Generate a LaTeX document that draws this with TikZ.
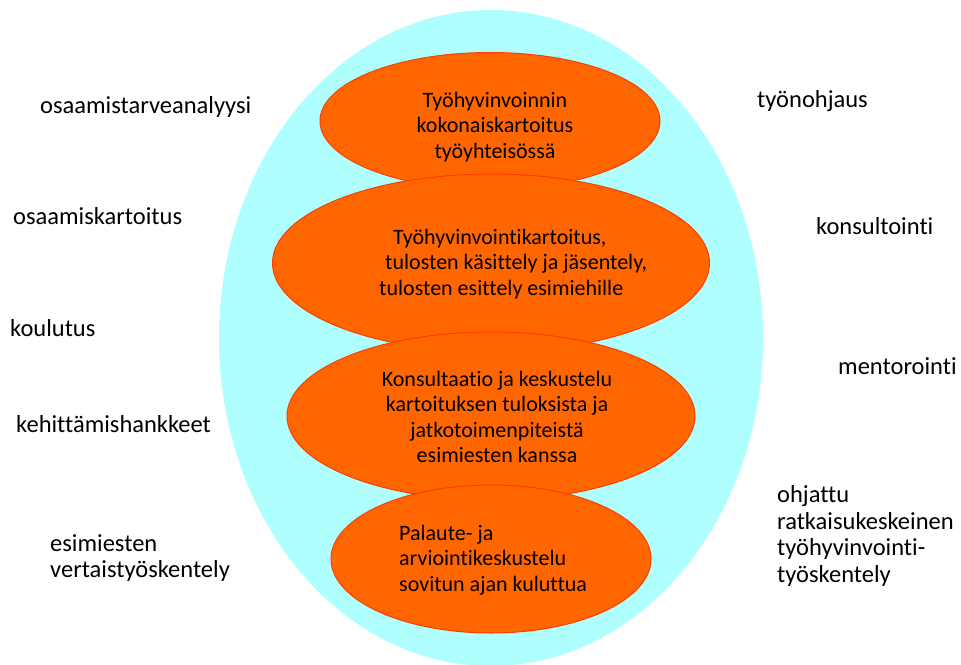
\documentclass[tikz,border=0pt]{standalone}
\usepackage{fontspec}
\setmainfont{Carlito}[Ligatures={NoCommon}]
\usetikzlibrary{shapes.geometric}
\definecolor{bgcyan}{RGB}{175,255,255}
\definecolor{orfill}{RGB}{255,102,0}
\definecolor{ordraw}{RGB}{255,60,0}
\tikzset{
  blob/.style={ellipse, fill=orfill, draw=ordraw, line width=1pt, inner sep=0pt},
  intext/.style={font=\fontsize{22}{25.5}\selectfont, text=black, inner sep=0pt},
  side/.style={font=\fontsize{24.5}{26.8}\selectfont, text=black, inner sep=0pt, anchor=west, align=left},
}
\begin{document}
\begin{tikzpicture}[x=1pt,y=-1pt]
\useasboundingbox (0,0) rectangle (961,664);
\fill[white] (0,0) rectangle (961,664);
\node[ellipse, fill=bgcyan, inner sep=0pt, minimum width=544pt, minimum height=656pt] (bg) at (491,338) {};
\node[blob, minimum width=340pt, minimum height=137pt] (e1) at (490,121) {};
\node[blob, minimum width=437pt, minimum height=178pt] (e2) at (491,263) {};
\node[blob, minimum width=408pt, minimum height=168pt] (e3) at (491,416) {};
\node[blob, minimum width=320pt, minimum height=148pt] (e4) at (491,559) {};
\node[intext, align=center] (t1) at (495,127) {Työhyvinvoinnin\\kokonaiskartoitus\\työyhteisössä};
\node[intext, align=left, anchor=north west] (t2) at (379,229) {\hspace*{14pt}Työhyvinvointikartoitus,\\\hspace*{6pt}tulosten käsittely ja jäsentely,\\tulosten esittely esimiehille};
\node[intext, align=center] (t3) at (497,417) {Konsultaatio ja keskustelu\\kartoituksen tuloksista ja\\jatkotoimenpiteistä\\esimiesten kanssa};
\node[intext, align=left, anchor=west] (t4) at (399,560) {Palaute- ja\\arviointikeskustelu\\sovitun ajan kuluttua};
\node[side] (l1) at (40,107) {osaamistarveanalyysi};
\node[side] (l2) at (13,216) {osaamiskartoitus};
\node[side] (l3) at (10,328) {koulutus};
\node[side] (l4) at (16,424) {kehittämishankkeet};
\node[side] (l5) at (50,558) {esimiesten\\vertaistyöskentely};
\node[side] (r1) at (757,101) {työnohjaus};
\node[side] (r2) at (816,226) {konsultointi};
\node[side] (r3) at (838,366) {mentorointi};
\node[side] (r4) at (777,536) {ohjattu\\ratkaisukeskeinen\\työhyvinvointi-\\työskentely};
\end{tikzpicture}
\end{document}
